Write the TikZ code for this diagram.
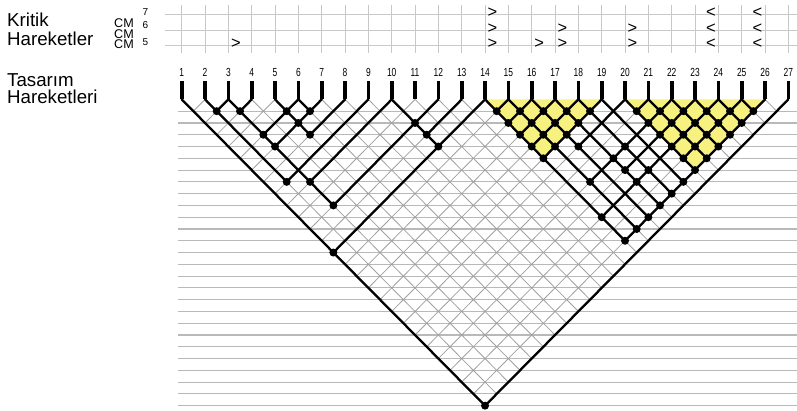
\documentclass[tikz,border=0pt]{standalone}
\usepackage{fontspec}
\setmainfont{Liberation Sans}
\newfontfamily\numfont[FakeStretch=0.72]{Liberation Sans}
\definecolor{gridgray}{RGB}{200,200,200}
\definecolor{hatchgray}{RGB}{160,160,160}
\definecolor{rowgray}{RGB}{185,185,185}
\definecolor{chunkyellow}{RGB}{247,242,128}
\begin{document}
\begin{tikzpicture}[x=1pt,y=-1pt,
  toplabel/.style={font=\fontsize{18.7}{18.7}\selectfont, anchor=base west, inner sep=0pt},
  cmlabel/.style={font=\fontsize{12.6}{12.6}\selectfont, anchor=base west, inner sep=0pt},
  cmsup/.style={font=\fontsize{10}{10}\selectfont, anchor=base west, inner sep=0pt},
  num/.style={font=\numfont\fontsize{11.7}{11.7}\selectfont, inner sep=0pt},
  chev/.style={font=\fontsize{16.5}{16.5}\selectfont, inner sep=0pt, text height=6pt, text depth=0pt},
  topgrid/.style={draw=gridgray, line width=0.9pt},
  rowline/.style={draw=rowgray, line width=1.1pt},
  hatch/.style={draw=hatchgray, line width=0.8pt},
  chunk/.style={fill=chunkyellow},
  link/.style={draw=black, line width=2.3pt, line cap=round},
  stubline/.style={draw=black, line width=3.6pt},
  dot/.style={circle, fill=black, inner sep=0pt, minimum size=8pt}
]
\useasboundingbox (0,0) rectangle (797,411);

% left titles
\node[toplabel] (kritik) at (7,26.8) {Kritik};
\node[toplabel] (hareketler) at (7,45.3) {Hareketler};
\node[toplabel] (tasarim) at (7,86.5) {Tasarım};
\node[toplabel] (hareketleri) at (7,104) {Hareketleri};

% CM labels
\node[cmlabel] (cm7) at (114,27.8) {CM};
\node[cmlabel] (cm6) at (114,38.1) {CM};
\node[cmlabel] (cm5) at (114,48.4) {CM};
\node[cmsup] (sup7) at (142.5,16) {7};
\node[cmsup] (sup6) at (142.5,28.3) {6};
\node[cmsup] (sup5) at (142.5,45.7) {5};

% top grid
\foreach \r in {14,30,45} \draw[topgrid] (165,\r) -- (797,\r);
\foreach \i in {1,...,27} {
  \pgfmathsetmacro\cx{181.7+23.333*(\i-1)}
  \draw[topgrid] (\cx,5) -- (\cx,53);
  \node[num] (n-\i) at (\cx,72.5) {\i};
}

% critical move chevrons
\foreach \c/\r in {3/45,14/14,14/30,14/45,16/45,17/30,17/45,20/30,20/45} {
  \pgfmathsetmacro\cx{181.7+23.333*(\c-1)+7.5}
  \node[chev] (f-\c-\r) at (\cx,\r+0.5) {>};
}
\foreach \c/\r in {24/14,24/30,24/45,26/14,26/30,26/45} {
  \pgfmathsetmacro\cx{181.7+23.333*(\c-1)-7.5}
  \node[chev] (b-\c-\r) at (\cx,\r+0.5) {<};
}

% horizontal rows
\foreach \r in {1,...,26} {
  \pgfmathsetmacro\ry{99.4+11.78*\r}
  \draw[rowline] (178,\ry) -- (797,\ry);
}

% lattice coordinates
\begin{scope}[shift={(181.7pt,-99.4pt)}, x=11.6667pt, y=-11.78pt]
  \foreach \i in {1,...,27} {
    \coordinate (t-\i) at ({2*(\i-1)},0);
    \coordinate (s-\i) at ({2*(\i-1)},-1.56);
  }
  \foreach \i in {1,...,26} {
    \pgfmathtruncatemacro\ii{\i+1}
    \foreach \j in {\ii,...,27} \coordinate (p-\i-\j) at ({\i+\j-2},{\j-\i});
  }
\end{scope}

% gray hatch of all possible links
\foreach \i in {2,...,27} \draw[hatch] (t-\i) -- (p-1-\i);
\foreach \i in {1,...,26} \draw[hatch] (t-\i) -- (p-\i-27);

% yellow chunks
\fill[chunk] (t-14) -- (t-19) -- (p-14-19) -- cycle;
\fill[chunk] (t-20) -- (t-26) -- (p-20-26) -- cycle;

% black link lines
\foreach \i/\l in {3/2,4/3,6/3,7/3,8/5,9/2,10/3,12/3,13/10,14/1,15/14,16/14,17/14,18/14,19/14,20/16,21/20,22/15,23/17,24/14,25/20,26/14,27/1}
  \draw[link] (t-\i) -- (p-\l-\i);
\foreach \i/\r in {1/27,2/9,3/12,5/8,6/7,10/14,14/26,15/26,16/26,17/26,18/26,19/26,20/26,21/26,22/26,23/26,24/26,25/26}
  \draw[link] (t-\i) -- (p-\i-\r);
\foreach \i in {1,...,27} \draw[stubline] (s-\i) -- (t-\i);

% link dots
\foreach \i/\j in {2/3,3/4,5/6,6/7,5/7,3/6,5/8,3/7,2/9,3/10,3/12,10/12,10/13,10/14,1/14,1/27,
  16/20,18/22,17/22,17/23,18/24,15/22,17/24,19/26,18/26,17/26,14/24,16/26,15/26,14/26}
  \node[dot] (d-\i-\j) at (p-\i-\j) {};
\foreach \i in {14,...,18} {
  \pgfmathtruncatemacro\ii{\i+1}
  \foreach \j in {\ii,...,19} \node[dot] (d-\i-\j) at (p-\i-\j) {};
}
\foreach \i in {20,...,25} {
  \pgfmathtruncatemacro\ii{\i+1}
  \foreach \j in {\ii,...,26} \node[dot] (d-\i-\j) at (p-\i-\j) {};
}
\end{tikzpicture}
\end{document}
